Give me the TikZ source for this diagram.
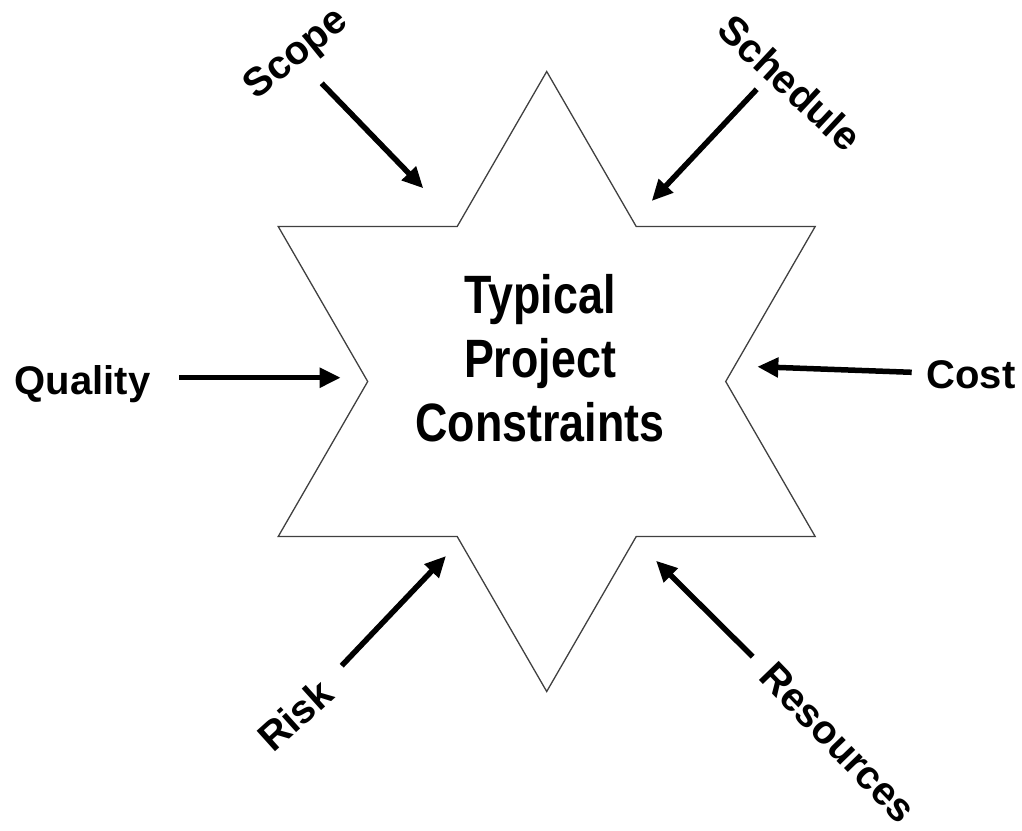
\documentclass[tikz,border=0pt]{standalone}
\usepackage{fontspec}
\setmainfont{Liberation Sans}
\usepackage{tikz}
\usetikzlibrary{arrows.meta}

\begin{document}
\begin{tikzpicture}[x=1pt, y=-1pt,
        push/.style={black, line width=5.5pt, -{Triangle[length=21pt, width=19pt]}},
        factor/.style={font=\fontsize{40}{46}\selectfont\bfseries, inner sep=0pt}]
        \useasboundingbox (0,0) rectangle (1022,830);
        \begin{scope}[shift={(546.7,381.5)}]
        \draw[black!75, line width=1.3pt, line join=miter] (90:310) -- (120:179) -- (150:310) -- (180:179) -- (210:310) -- (240:179)
            -- (270:310) -- (300:179) -- (330:310) -- (0:179) -- (30:310) -- (60:179) -- cycle;
        \end{scope}
        \node[font=\fontsize{54}{64}\selectfont\bfseries, align=center, xscale=0.83, inner sep=0pt] (core) at (540,358.6) {Typical\\Project\\Constraints};
        \node[factor, rotate=39] (scope) at (297,55) {Scope};
        \node[factor, rotate=-43] (schedule) at (790,83) {Schedule};
        \node[factor, anchor=base] (quality) at (82.5,394) {Quality};
        \node[factor, anchor=base] (cost) at (971,388) {Cost};
        \node[factor, rotate=42] (risk) at (295,715) {Risk};
        \node[factor, rotate=-46] (resources) at (838,743) {Resources};
        \coordinate (scope-from) at (321.7,83.3);
        \coordinate (scope-to) at (423.3,188.3);
        \coordinate (schedule-from) at (756.7,89.3);
        \coordinate (schedule-to) at (651.7,201);
        \coordinate (quality-from) at (179.3,377.7);
        \coordinate (quality-to) at (340.7,377.7);
        \coordinate (cost-from) at (911.7,372.3);
        \coordinate (cost-to) at (757.3,366.7);
        \coordinate (risk-from) at (341.7,665.7);
        \coordinate (risk-to) at (446,556);
        \coordinate (resources-from) at (752.7,656.7);
        \coordinate (resources-to) at (656,560.7);
        \draw[push] (scope-from) -- (scope-to);
        \draw[push] (schedule-from) -- (schedule-to);
        \draw[push] (quality-from) -- (quality-to);
        \draw[push] (cost-from) -- (cost-to);
        \draw[push] (risk-from) -- (risk-to);
        \draw[push] (resources-from) -- (resources-to);
    \end{tikzpicture}
\end{document}
